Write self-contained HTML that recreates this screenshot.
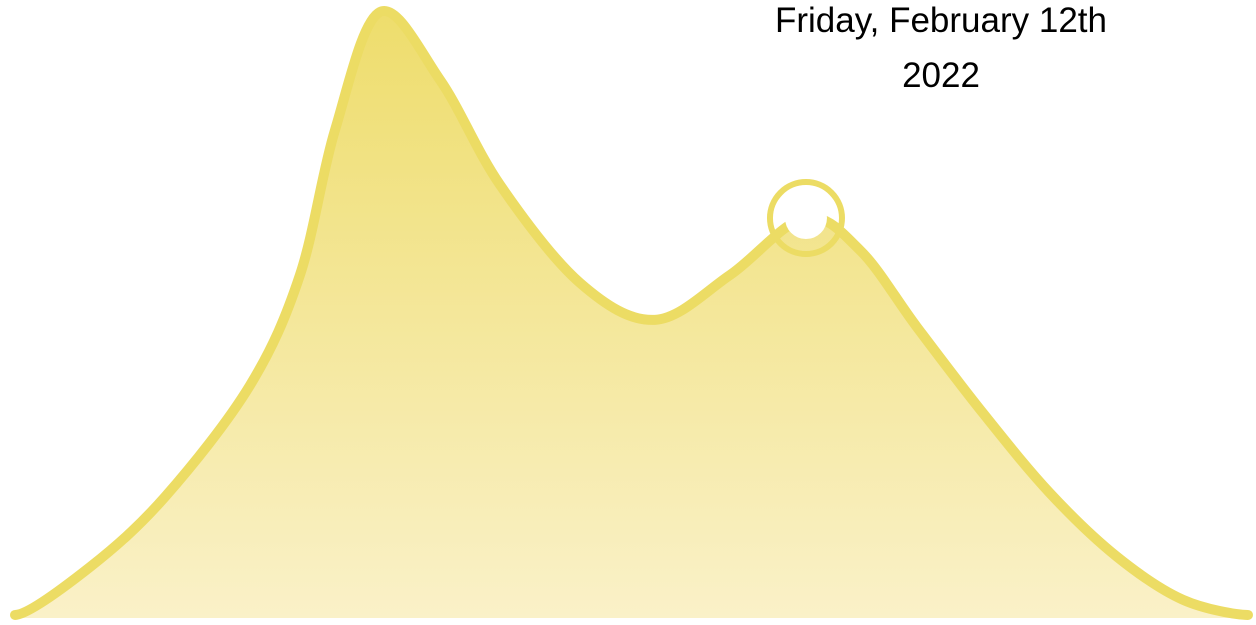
<!DOCTYPE html>
<html><head><meta charset="utf-8">
<style>
html,body{margin:0;padding:0;background:#fff;}
svg{display:block;}
</style></head>
<body>
<svg id="chart" width="1256" height="625" viewBox="0 0 1256 625" xmlns="http://www.w3.org/2000/svg">
<defs>
<linearGradient id="fillGrad" x1="0" y1="0" x2="0" y2="1">
<stop offset="0" stop-color="#eedd6c"/>
<stop offset="1" stop-color="#faf1c8"/>
</linearGradient>
</defs>
<g id="plot"></g>
<text x="941" y="32" text-anchor="middle" font-family="Liberation Sans, sans-serif" font-size="35" textLength="332" lengthAdjust="spacingAndGlyphs" fill="#000">Friday, February 12th</text>
<text x="941" y="87" text-anchor="middle" font-family="Liberation Sans, sans-serif" font-size="35" fill="#000">2022</text>
</svg>
<script>
const xs = [0, 6.08, 12.17, 19.06, 23.11, 25.95, 29.6, 34.47, 39.33, 45.82, 51.9, 57.99, 64.07, 68.53, 73.15, 78.51, 83.94, 89.38, 94.73, 100];
const ys = [0.5, 8.4, 20, 38.4, 56.6, 80.5, 100, 88.8, 71.5, 55.3, 49.2, 56.6, 66, 60.7, 48, 33.8, 20.6, 10.1, 3, 0.5];
const highlightIndex = 12;

const X0 = 15, X1 = 1248, Y0 = 618, Y1 = 12;
function sx(v){ return X0 + v / 100 * (X1 - X0); }
function sy(v){ return Y0 - v / 100 * (Y0 - Y1); }

function catmullPath(px, py){
  const n = px.length;
  let s = 'M' + px[0] + ',' + py[0];
  for (let i = 0; i < n - 1; i++){
    const i0 = Math.max(0, i-1), i3 = Math.min(n-1, i+2);
    let c1x = px[i] + (px[i+1]-px[i0])/6, c1y = py[i] + (py[i+1]-py[i0])/6;
    let c2x = px[i+1] - (px[i3]-px[i])/6, c2y = py[i+1] - (py[i3]-py[i])/6;
    if (i === 0) c1y = py[0];
    if (i === n-2) c2y = py[n-1];
    s += 'C' + c1x + ',' + c1y + ',' + c2x + ',' + c2y + ',' + px[i+1] + ',' + py[i+1];
  }
  return s;
}

const NS = 'http://www.w3.org/2000/svg';
const g = document.getElementById('plot');
const px = xs.map(sx), py = ys.map(sy);
const linePath = catmullPath(px, py);

const area = document.createElementNS(NS, 'path');


area.setAttribute('d', linePath + 'L' + px[px.length-1] + ',' + Y0 + 'L' + px[0] + ',' + Y0 + 'Z');
area.setAttribute('fill', 'url(#fillGrad)');
g.appendChild(area);

const line = document.createElementNS(NS, 'path');


line.setAttribute('d', linePath);
line.setAttribute('fill', 'none');
line.setAttribute('stroke', '#ecdc64');
line.setAttribute('stroke-width', '10');
line.setAttribute('stroke-linecap', 'round');
line.setAttribute('stroke-linejoin', 'round');
g.appendChild(line);

const hx = px[highlightIndex], hy = py[highlightIndex];
const inner = document.createElementNS(NS, 'circle');


inner.setAttribute('cx', hx + 1);
inner.setAttribute('cy', hy);
inner.setAttribute('r', 21);
inner.setAttribute('fill', '#fff');
g.appendChild(inner);

const ring = document.createElementNS(NS, 'circle');


ring.setAttribute('cx', hx + 1);
ring.setAttribute('cy', hy);
ring.setAttribute('r', 36);
ring.setAttribute('fill', 'none');
ring.setAttribute('stroke', '#ecdc64');
ring.setAttribute('stroke-width', '6');
g.appendChild(ring);
</script>
</body></html>
